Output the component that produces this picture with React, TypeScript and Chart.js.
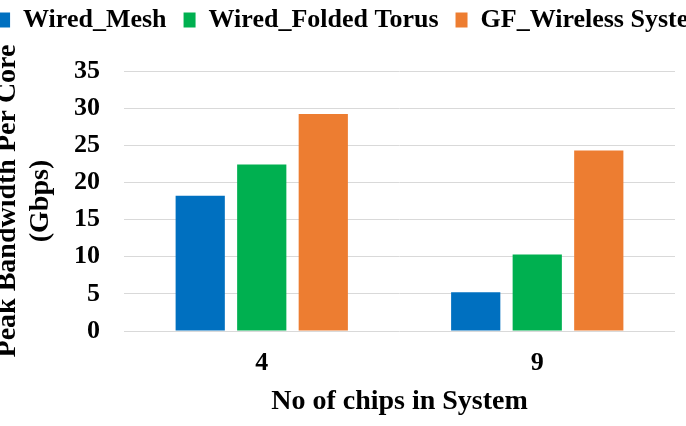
import React, { useEffect, useRef } from "react";
import { Chart, registerables } from "chart.js";

Chart.register(...registerables);

const categories = ["4", "9"];
const seriesNames = ["Wired_Mesh", "Wired_Folded Torus", "GF_Wireless System"];
const wiredMesh = [18.2, 5.2];
const wiredFoldedTorus = [22.4, 10.3];
const gfWireless = [29.2, 24.3];
const colors = ["#0070C0", "#00B050", "#ED7D31"];
const yTitle = ["Peak Bandwidth Per Core", "(Gbps)"];
const xTitle = "No of chips in System";

const FONT = "'Liberation Serif', 'Times New Roman', serif";

export default function App() {
  const ref = useRef<HTMLCanvasElement | null>(null);
  useEffect(() => {
    if (!ref.current) return;
    const values = [wiredMesh, wiredFoldedTorus, gfWireless];
    const chart = new Chart(ref.current, {
      type: "bar",
      data: {
        labels: categories,
        datasets: seriesNames.map((name, i) => ({
          label: name,
          data: values[i],
          backgroundColor: colors[i],
          borderWidth: 0,
          xAxisID: "x",
          yAxisID: "y",
          categoryPercentage: 0.67,
          barPercentage: 0.8,
        })),
      },
      options: {
        responsive: false,
        animation: false,
        layout: { padding: 0 },
        plugins: {
          tooltip: { enabled: false },
          legend: {
            position: "top",
            labels: {
              color: "#000",
              boxWidth: 12,
              boxHeight: 15,
              padding: 17,
              font: { family: FONT, size: 26, weight: "bold" },
            },
          },
        },
        scales: {
          x: {
            position: "bottom",
            grid: { display: false, drawTicks: false },
            border: { display: false },
            ticks: {
              color: "#000",
              padding: 17,
              font: { family: FONT, size: 26, weight: "bold" },
            },
            title: {
              display: true,
              text: xTitle,
              color: "#000",
              padding: { top: 0, bottom: 7 },
              font: { family: FONT, size: 28, weight: "bold" },
            },
            afterFit: (s: any) => {
              s.height = 95;
            },
          },
          y: {
            position: "left",
            min: 0,
            max: 35,
            grid: { color: "#d9d9d9", lineWidth: 1, drawTicks: false },
            border: { display: false },
            ticks: {
              stepSize: 5,
              color: "#000",
              padding: 24,
              font: { family: FONT, size: 26, weight: "bold" },
            },
            title: {
              display: true,
              text: yTitle,
              color: "#000",
              padding: { top: 38, bottom: 0 },
              font: { family: FONT, size: 28, weight: "bold", lineHeight: 1.15 },
            },
            afterFit: (s: any) => {
              s.width = 170;
            },
          },
          yRight: {
            type: "linear",
            position: "right",
            display: true,
            grid: { display: false, drawTicks: false },
            border: { display: false },
            ticks: { display: false },
            afterFit: (s: any) => {
              s.width = 79;
            },
          },
          xTop: {
            type: "linear",
            position: "top",
            display: true,
            grid: { display: false, drawTicks: false },
            border: { display: false },
            ticks: { display: false },
            afterFit: (s: any) => {
              s.height = 28;
            },
          },
        },
      } as any,
    });
    return () => chart.destroy();
  }, []);

  return (
    <div
      style={{
        position: "fixed",
        left: 0,
        top: 0,
        width: 686,
        height: 426,
        overflow: "hidden",
        background: "#fff",
      }}
    >
      <div style={{ position: "absolute", left: -46, top: -10, width: 800, height: 436 }}>
        <canvas ref={ref} width={800} height={436} />
      </div>
    </div>
  );
}
